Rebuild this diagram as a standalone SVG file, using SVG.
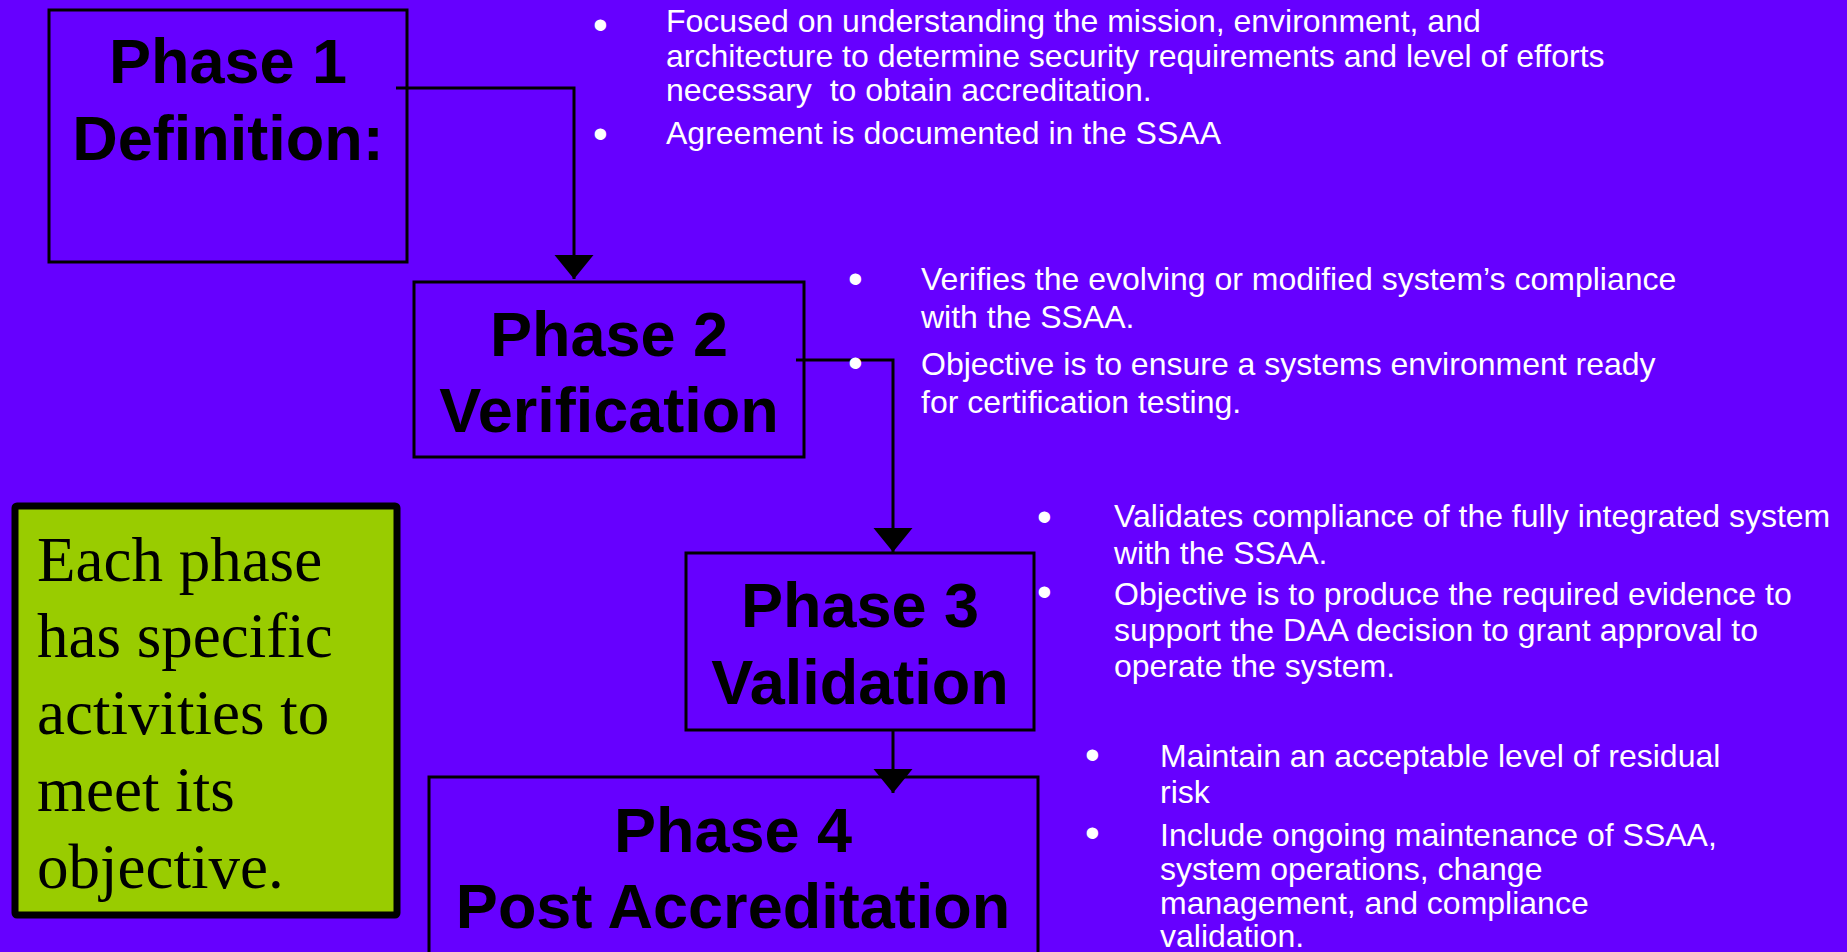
<svg xmlns="http://www.w3.org/2000/svg" width="1847" height="952" viewBox="0 0 1847 952">
  <defs>
    <marker id="arrow" markerUnits="userSpaceOnUse" markerWidth="26" markerHeight="40" refX="24" refY="19.5" orient="auto">
      <path d="M0,0 L24,19.5 L0,39 Z" fill="#000"/>
    </marker>
    <style>
      .phase { fill: none; stroke: #000; stroke-width: 3; }
      .title { font-family: "Liberation Sans", Arial, sans-serif; font-weight: bold; font-size: 63px; fill: #000; text-anchor: middle; }
      .bullet-text { font-family: "Liberation Sans", Arial, sans-serif; font-size: 32px; fill: #fff; }
      .dot { font-family: "Liberation Sans", Arial, sans-serif; font-size: 42px; fill: #fff; }
      .link { fill: none; stroke: #000; stroke-width: 3; marker-end: url(#arrow); }
      .note-box { fill: #99CC00; stroke: #000; stroke-width: 7; }
      .note { font-family: "Liberation Serif", "Times New Roman", serif; font-size: 63px; fill: #000; }
    </style>
  </defs>

  <rect x="0" y="0" width="1847" height="952" fill="#6600FF"/>

  <!-- connectors between phases -->
  <g id="connectors">
    <polyline class="link" points="396,88 574,88 574,279"/>
    <polyline class="link" points="796,360 893,360 893,552"/>
    <polyline class="link" points="893,730 893,793"/>
  </g>

  <g id="phase1">
    <rect class="phase" x="49" y="10" width="358" height="252"/>
    <text class="title" x="228" y="83">Phase 1</text>
    <text class="title" x="228" y="160">Definition:</text>
  </g>

  <g id="phase2">
    <rect class="phase" x="414" y="282" width="390" height="175"/>
    <text class="title" x="609" y="356">Phase 2</text>
    <text class="title" x="609" y="432">Verification</text>
  </g>

  <g id="phase3">
    <rect class="phase" x="686" y="553" width="348" height="177"/>
    <text class="title" x="860" y="627">Phase 3</text>
    <text class="title" x="860" y="704">Validation</text>
  </g>

  <g id="phase4">
    <rect class="phase" x="429" y="777" width="609" height="200"/>
    <text class="title" x="733" y="852">Phase 4</text>
    <text class="title" x="733" y="928">Post Accreditation</text>
  </g>

  <g id="note">
    <rect class="note-box" x="15" y="506" width="382" height="409" rx="2"/>
    <text class="note" x="37" y="581">Each phase</text>
    <text class="note" x="37" y="657">has specific</text>
    <text class="note" x="37" y="734">activities to</text>
    <text class="note" x="37" y="811">meet its</text>
    <text class="note" x="37" y="888">objective.</text>
  </g>

  <g id="definition-notes">
    <text class="dot" x="593" y="39">•</text>
    <text class="bullet-text" x="666" y="32">Focused on understanding the mission, environment, and</text>
    <text class="bullet-text" x="666" y="67">architecture to determine security requirements and level of efforts</text>
    <text class="bullet-text" x="666" y="101" xml:space="preserve">necessary  to obtain accreditation.</text>
    <text class="dot" x="593" y="148">•</text>
    <text class="bullet-text" x="666" y="144">Agreement is documented in the SSAA</text>
  </g>

  <g id="verification-notes">
    <text class="dot" x="848" y="293">•</text>
    <text class="bullet-text" x="921" y="290">Verifies the evolving or modified system’s compliance</text>
    <text class="bullet-text" x="921" y="328">with the SSAA.</text>
    <text class="dot" x="848" y="377">•</text>
    <text class="bullet-text" x="921" y="375">Objective is to ensure a systems environment ready</text>
    <text class="bullet-text" x="921" y="413">for certification testing.</text>
  </g>

  <g id="validation-notes">
    <text class="dot" x="1037" y="531">•</text>
    <text class="bullet-text" x="1114" y="527">Validates compliance of the fully integrated system</text>
    <text class="bullet-text" x="1114" y="564">with the SSAA.</text>
    <text class="dot" x="1037" y="606">•</text>
    <text class="bullet-text" x="1114" y="605">Objective is to produce the required evidence to</text>
    <text class="bullet-text" x="1114" y="641">support the DAA decision to grant approval to</text>
    <text class="bullet-text" x="1114" y="677">operate the system.</text>
  </g>

  <g id="post-accreditation-notes">
    <text class="dot" x="1085" y="769">•</text>
    <text class="bullet-text" x="1160" y="767">Maintain an acceptable level of residual</text>
    <text class="bullet-text" x="1160" y="803">risk</text>
    <text class="dot" x="1085" y="847">•</text>
    <text class="bullet-text" x="1160" y="846">Include ongoing maintenance of SSAA,</text>
    <text class="bullet-text" x="1160" y="880">system operations, change</text>
    <text class="bullet-text" x="1160" y="914">management, and compliance</text>
    <text class="bullet-text" x="1160" y="947">validation.</text>
  </g>
</svg>
